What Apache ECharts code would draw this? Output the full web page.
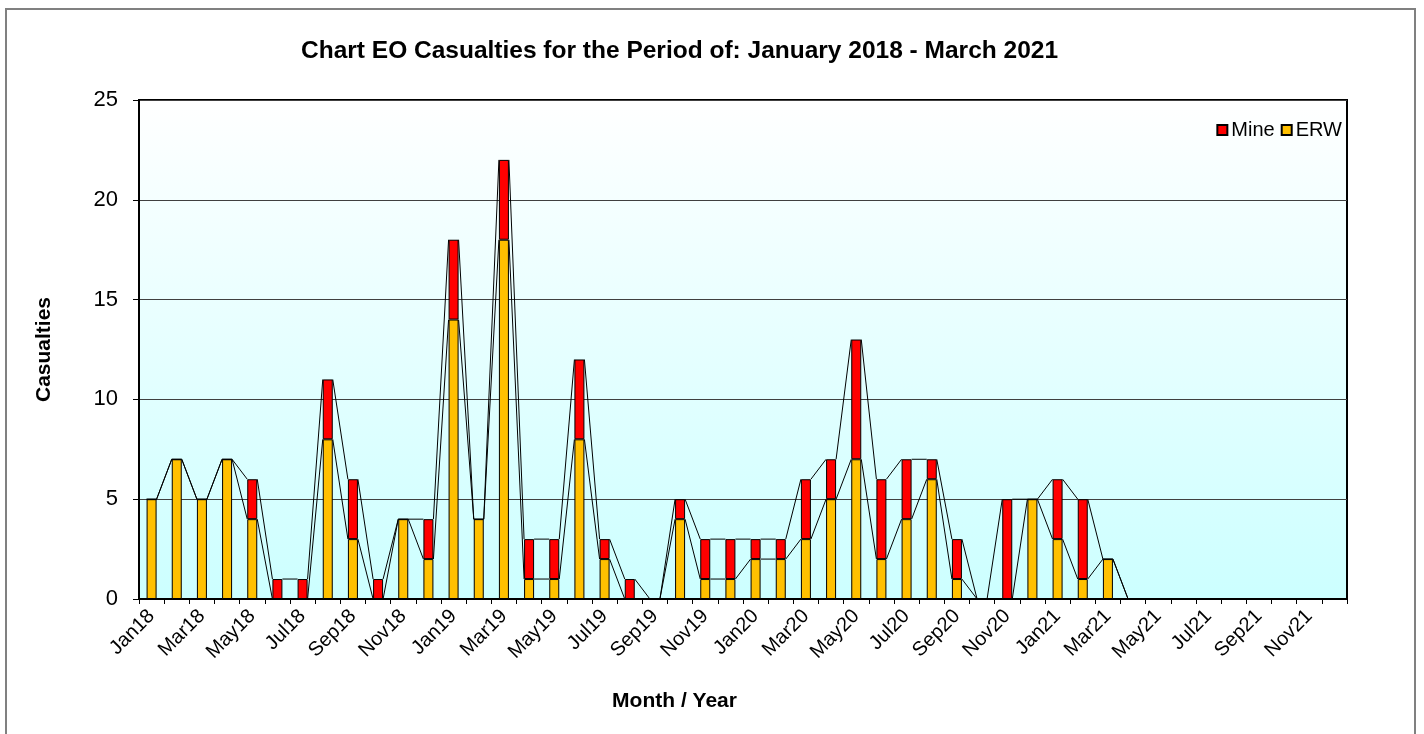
<!DOCTYPE html>
<html>
<head>
<meta charset="utf-8">
<title>Chart EO Casualties</title>
<script src="https://cdn.jsdelivr.net/npm/echarts@6/dist/echarts.min.js"></script>
<style>
  html, body { margin: 0; padding: 0; background: #fff; }
  #chart { width: 1424px; height: 734px; }
</style>
</head>
<body>
<div id="chart"></div>
<script>
// months on the x axis
var months = [
  'Jan18', 'Feb18', 'Mar18', 'Apr18', 'May18', 'Jun18', 'Jul18', 'Aug18', 'Sep18', 'Oct18', 'Nov18', 'Dec18',
  'Jan19', 'Feb19', 'Mar19', 'Apr19', 'May19', 'Jun19', 'Jul19', 'Aug19', 'Sep19', 'Oct19', 'Nov19', 'Dec19',
  'Jan20', 'Feb20', 'Mar20', 'Apr20', 'May20', 'Jun20', 'Jul20', 'Aug20', 'Sep20', 'Oct20', 'Nov20', 'Dec20',
  'Jan21', 'Feb21', 'Mar21', 'Apr21', 'May21', 'Jun21', 'Jul21', 'Aug21', 'Sep21', 'Oct21', 'Nov21', 'Dec21'
]
// ERW casualties (bottom of the stack)
var erw = [
  5, 7, 5, 7, 4, 0, 0, 8, 3, 0, 4, 2,
  14, 4, 18, 1, 1, 8, 2, 0, 0, 4, 1, 1,
  2, 2, 3, 5, 7, 2, 4, 6, 1, 0, 0, 5,
  3, 1, 2, 0, 0, 0, 0, 0, 0, 0, 0, 0
]
// Mine casualties (top of the stack)
var mine = [
  0, 0, 0, 0, 2, 1, 1, 3, 3, 1, 0, 2,
  4, 0, 4, 2, 2, 4, 1, 1, 0, 1, 2, 2,
  1, 1, 3, 2, 6, 4, 3, 1, 2, 0, 5, 0,
  3, 4, 0, 0, 0, 0, 0, 0, 0, 0, 0, 0
]

var barW = 10
var font = "'Liberation Sans', Arial, sans-serif"

// series lines between neighbouring bars: [i, erw_i, total_i, erw_i+1, total_i+1]
var seriesLines = []
for (var i = 0; i < months.length - 1; i++) {
  seriesLines.push([i, erw[i], erw[i] + mine[i], erw[i + 1], erw[i + 1] + mine[i + 1]])
}

var chart = echarts.init(document.getElementById('chart'))
var option = {
  animation: false,
  textStyle: { fontFamily: font, color: '#000' },
  title: {
    text: 'Chart EO Casualties for the Period of: January 2018 - March 2021',
    left: 301,
    top: 39,
    padding: 0,
    textStyle: { fontSize: 24.5, fontWeight: 'bold', color: '#000', fontFamily: font }
  },
  legend: {
    data: ['Mine', 'ERW'],
    right: 82,
    top: 120,
    padding: 0,
    icon: 'rect',
    itemWidth: 10,
    itemHeight: 10,
    itemGap: 6,
    textStyle: { fontSize: 20, color: '#000', fontFamily: font, padding: [0, 0, 0, -1] }
  },
  graphic: [
    {
      type: 'rect',
      shape: { x: 6, y: 9, width: 1409, height: 800 },
      style: { fill: 'none', stroke: '#808080', lineWidth: 2 },
      silent: true
    }
  ],
  grid: {
    left: 139,
    right: 77,
    top: 100,
    bottom: 135,
    show: true,
    borderColor: '#000',
    borderWidth: 2,
    backgroundColor: {
      type: 'linear', x: 0, y: 0, x2: 0, y2: 1,
      colorStops: [
        { offset: 0, color: '#ffffff' },
        { offset: 1, color: '#ccffff' }
      ]
    }
  },
  xAxis: {
    type: 'category',
    data: months,
    name: 'Month / Year',
    nameLocation: 'middle',
    nameGap: 92,
    nameTextStyle: { fontSize: 21, fontWeight: 'bold', color: '#000', fontFamily: font, padding: [0, 137, 0, 0] },
    axisLine: { lineStyle: { color: '#000', width: 2 } },
    axisTick: { show: true, interval: 0, length: 5, lineStyle: { color: '#000', width: 1 } },
    axisLabel: { interval: 1, rotate: 45, fontSize: 20, color: '#000', margin: 14, fontFamily: font },
    splitLine: { show: false }
  },
  yAxis: {
    type: 'value',
    min: 0,
    max: 25,
    interval: 5,
    name: 'Casualties',
    nameLocation: 'middle',
    nameGap: 84,
    nameTextStyle: { fontSize: 21, fontWeight: 'bold', color: '#000', fontFamily: font },
    axisLine: { show: true, lineStyle: { color: '#000', width: 2 } },
    axisTick: { show: true, length: 6, lineStyle: { color: '#000', width: 1 } },
    axisLabel: { fontSize: 22, color: '#000', margin: 21, fontFamily: font },
    splitLine: { show: true, lineStyle: { color: '#404040', width: 1 } }
  },
  series: [
    {
      name: 'ERW',
      type: 'bar',
      stack: 'cas',
      barWidth: barW,
      data: erw,
      itemStyle: { color: '#ffc000', borderColor: '#000', borderWidth: 1 }
    },
    {
      name: 'Mine',
      type: 'bar',
      stack: 'cas',
      barWidth: barW,
      data: mine,
      itemStyle: { color: '#ff0000', borderColor: '#000', borderWidth: 1 }
    },
    {
      name: 'series lines',
      type: 'custom',
      silent: true,
      z: 1,
      data: seriesLines,
      renderItem: function (params, api) {
        var idx = api.value(0)
        var children = []
        for (var k = 0; k < 2; k++) {
          var a = api.coord([idx, api.value(1 + k)])
          var b = api.coord([idx + 1, api.value(3 + k)])
          children.push({
            type: 'line',
            shape: { x1: a[0] + barW / 2, y1: a[1], x2: b[0] - barW / 2, y2: b[1] },
            style: { stroke: '#000', lineWidth: 1 }
          })
        }
        return { type: 'group', children: children }
      }
    }
  ]
}
chart.setOption(option)
</script>
</body>
</html>
